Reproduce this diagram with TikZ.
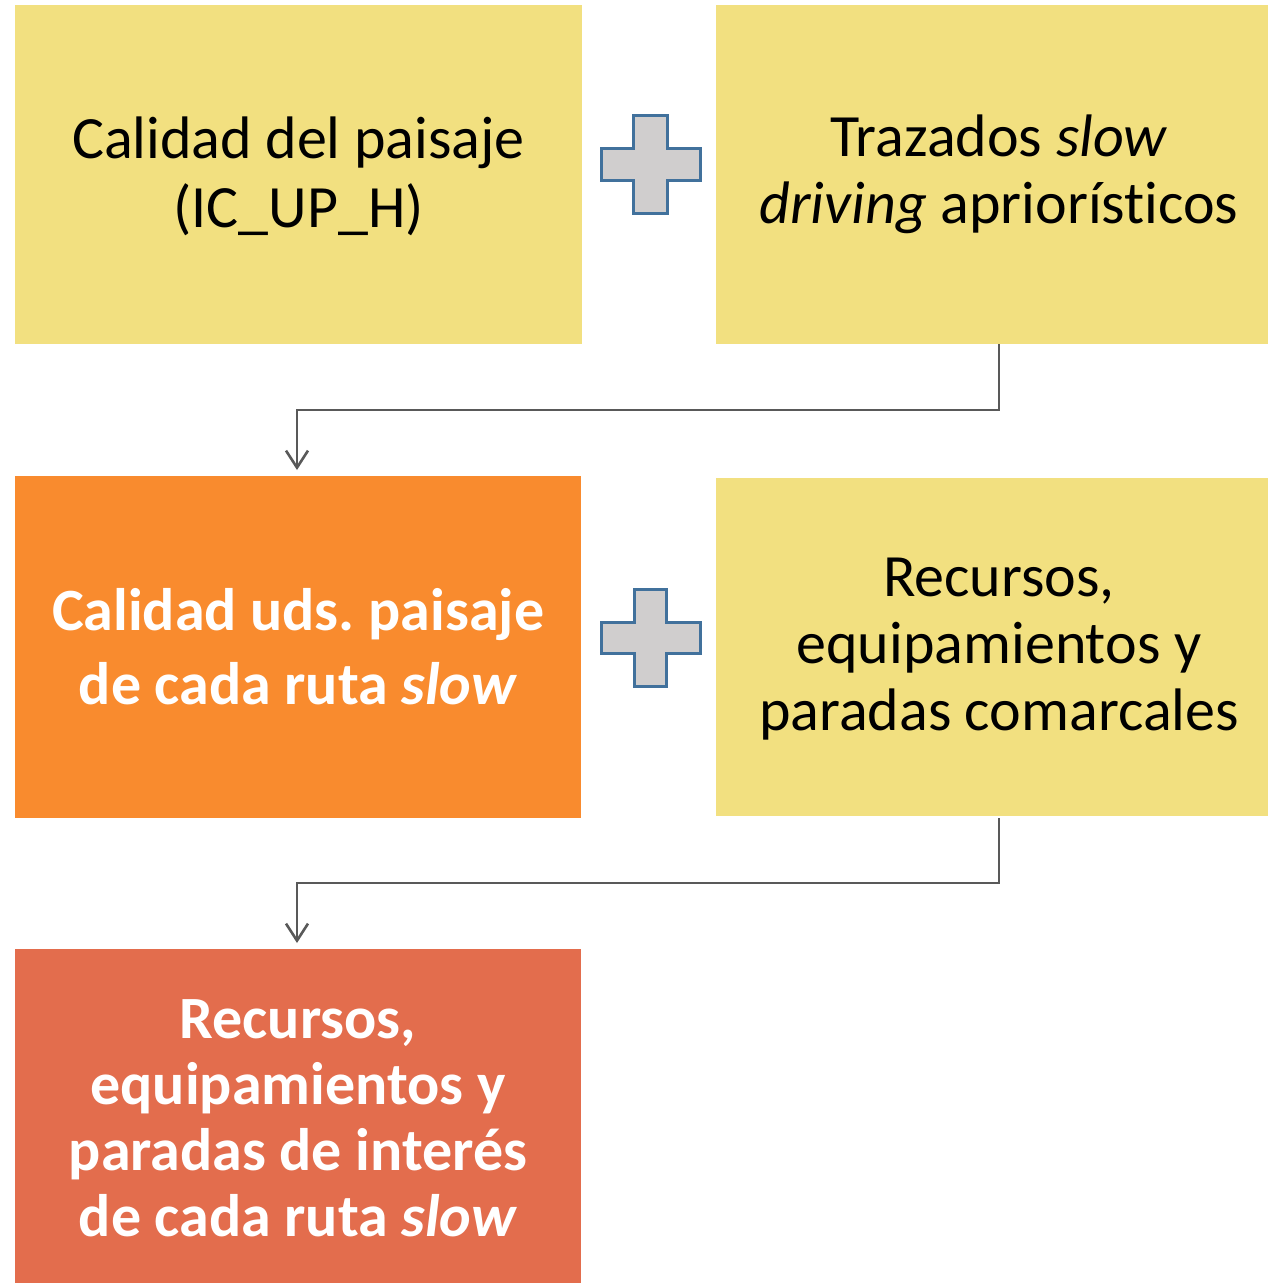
\documentclass[tikz,border=0pt]{standalone}
\usepackage{fontspec}
\setmainfont{Carlito}[Ligatures=NoCommon]
\usetikzlibrary{arrows.meta}
\frenchspacing
\definecolor{ylw}{HTML}{F2E080}
\definecolor{org}{HTML}{F98B2E}
\definecolor{red}{HTML}{E36D4D}
\definecolor{plusfill}{HTML}{D0CECE}
\definecolor{plusline}{HTML}{41719C}
\definecolor{arr}{HTML}{595959}
\begin{document}
\begin{tikzpicture}[x=1pt,y=-1pt,
  box/.style={inner sep=0pt, align=center, font=\fontsize{60}{69}\selectfont},
  conn/.style={draw=arr, line width=2.6pt, -{Straight Barb[length=17pt,width=22pt,line width=2.6pt]}},
  plusshape/.style={fill=plusfill, draw=plusline, line width=3pt, line join=miter}]
\useasboundingbox (0,0) rectangle (1268,1283);
% boxes
\fill[ylw] (15,5) rectangle (582,344);
\node[box] (b1) at (298.5,176) {Calidad del paisaje\\(IC\_UP\_H)};
\fill[ylw] (716,5) rectangle (1268,344);
\node[box, font=\fontsize{60}{67}\selectfont] (b2) at (999,174) {Trazados \textit{slow}\\\textit{driving} apriorísticos};
\fill[org] (15,476) rectangle (581,818);
\node[box, text=white, font=\bfseries\fontsize{60}{74}\selectfont] (b3) at (298,647) {Calidad uds. paisaje\\de cada ruta \textit{slow}};
\fill[ylw] (716,478) rectangle (1268,816);
\node[box, font=\fontsize{60}{67}\selectfont] (b4) at (999,649) {Recursos,\\equipamientos y\\paradas comarcales};
\fill[red] (15,949) rectangle (581,1283);
\node[box, text=white, font=\bfseries\fontsize{60}{66}\selectfont] (b5) at (298,1118) {Recursos,\\equipamientos y\\paradas de interés\\de cada ruta \textit{slow}};
% anchors
\coordinate (s1) at (999,344);
\coordinate (t1) at (297,470);
\coordinate (s2) at (999,818);
\coordinate (t2) at (297,943);
\draw[conn] (s1) -- (999,410) -- (297,410) -- (t1);
\draw[conn] (s2) -- (999,883) -- (297,883) -- (t2);
% plus signs
\draw[plusshape] (633,115) -- (667,115) -- (667,148) -- (700,148) -- (700,180) -- (667,180) -- (667,213) -- (633,213) -- (633,180) -- (601,180) -- (601,148) -- (633,148) -- cycle;
\draw[plusshape] (634,589) -- (666,589) -- (666,622) -- (700,622) -- (700,653) -- (666,653) -- (666,686) -- (634,686) -- (634,653) -- (601,653) -- (601,622) -- (634,622) -- cycle;
\end{tikzpicture}
\end{document}
